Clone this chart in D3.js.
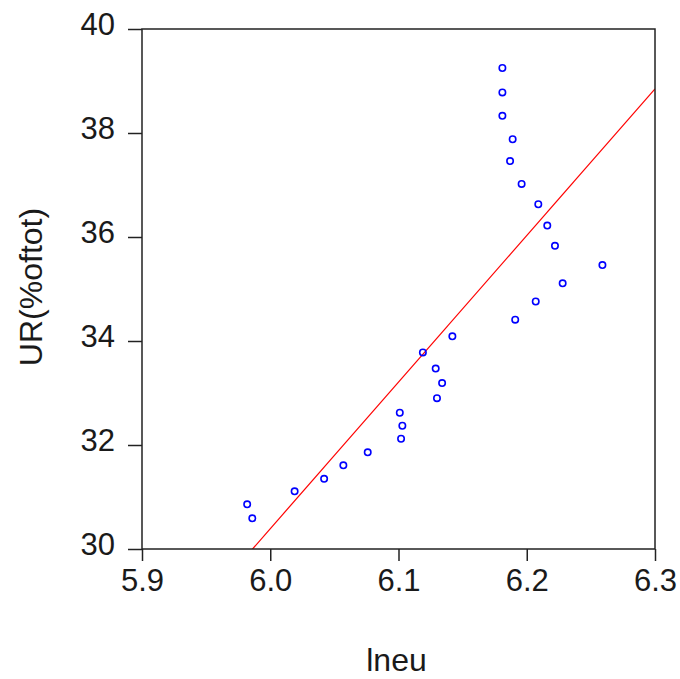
<!DOCTYPE html>
<html><head><meta charset="utf-8">
<script src="https://cdn.jsdelivr.net/npm/d3@7"></script>
<style>html,body{margin:0;padding:0;background:#fff;}</style>
</head><body>
<svg id="chart" width="680" height="679"></svg>
<script>
const lneu = [6.181,6.181,6.181,6.189,6.187,6.196,6.209,6.216,6.222,6.259,6.228,6.207,6.191,6.142,6.119,6.129,6.134,6.130,6.101,6.103,6.102,6.076,6.057,6.042,6.019,5.982,5.986];
const ur   = [39.25,38.78,38.33,37.88,37.46,37.02,36.63,36.22,35.83,35.46,35.11,34.76,34.41,34.09,33.78,33.47,33.19,32.90,32.62,32.37,32.12,31.86,31.61,31.35,31.11,30.86,30.59];
const fitIntercept = -138.75;
const fitSlope = 28.19;
const xTicks = [5.9,6.0,6.1,6.2,6.3];
const yTicks = [30,32,34,36,38,40];
const xTitle = "lneu";
const yTitle = "UR(%oftot)";

const svg = d3.select("#chart");
const L=142,R=655,T=29,B=549;
const x = d3.scaleLinear().domain([5.9,6.3]).range([L,R]);
const y = d3.scaleLinear().domain([30,40]).range([B,T]);
const font = "'Liberation Sans', Arial, sans-serif";

svg.append("defs").append("clipPath").attr("id","clip")
  .append("rect").attr("x",L).attr("y",T).attr("width",R-L).attr("height",B-T);

// fit line
const xs = x.domain();
svg.append("line")
  .attr("clip-path","url(#clip)")
  .attr("x1",x(xs[0])).attr("y1",y(fitIntercept+fitSlope*xs[0]))
  .attr("x2",x(xs[1])).attr("y2",y(fitIntercept+fitSlope*xs[1]))
  .attr("stroke","#ff0000").attr("stroke-width",1.2);

// points
svg.append("g").selectAll("circle").data(lneu.map((v,i)=>[v,ur[i]])).join("circle")
  .attr("cx",d=>x(d[0])).attr("cy",d=>y(d[1])).attr("r",3.2)
  .attr("fill","none").attr("stroke","#0000ff").attr("stroke-width",1.6);

// axes
const xAxis = d3.axisBottom(x).tickValues(xTicks).tickFormat(d3.format(".1f")).tickSizeInner(12).tickSizeOuter(0).tickPadding(8);
const yAxis = d3.axisLeft(y).tickValues(yTicks).tickFormat(d3.format("d")).tickSizeInner(14).tickSizeOuter(0).tickPadding(13);
const gx = svg.append("g").attr("transform",`translate(0,${B})`).call(xAxis);
const gy = svg.append("g").attr("transform",`translate(${L},0)`).call(yAxis);
[gx,gy].forEach(g=>{
  g.select(".domain").remove();
  g.selectAll(".tick line").attr("stroke","#222").attr("stroke-width",1.5);
  g.selectAll("text").attr("font-family",font).attr("font-size",31).attr("fill","#1a1a1a");
});
gy.selectAll("text").attr("dy","0.18em");

// frame
svg.append("rect").attr("x",L).attr("y",T).attr("width",R-L).attr("height",B-T)
  .attr("fill","none").attr("stroke","#222").attr("stroke-width",1.5);

svg.append("text").attr("x",(L+R)/2 - 2).attr("y",671)
  .attr("text-anchor","middle").attr("font-family",font).attr("font-size",32).attr("fill","#1a1a1a").text(xTitle);
svg.append("text").attr("transform",`translate(42,287) rotate(-90)`)
  .attr("text-anchor","middle").attr("font-family",font).attr("font-size",32).attr("fill","#1a1a1a").text(yTitle);
</script>
</body></html>
